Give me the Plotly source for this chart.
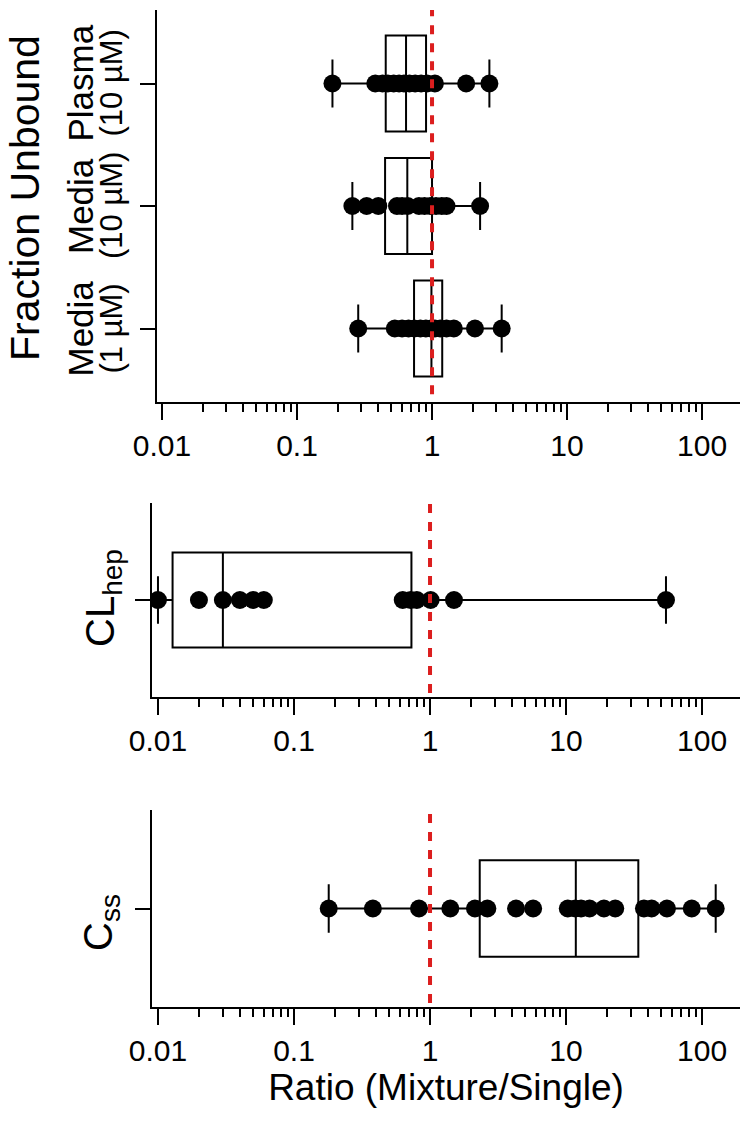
import plotly.graph_objects as go

FONT = "Liberation Sans, Arial, Helvetica, sans-serif"

# ---------------- data ----------------
# Top panel: Fraction unbound ratios (rows from bottom to top)
fu_line1 = ["Media", "Media", "Plasma"]
fu_line2 = ["(1 µM)", "(10 µM)", "(10 µM)"]
fu_media_1uM = [0.284, 0.53, 0.60, 0.67, 0.74, 0.82, 0.90, 0.98, 1.05, 1.15, 1.28, 1.45, 2.08, 3.28]
fu_media_10uM = [0.257, 0.328, 0.40, 0.55, 0.60, 0.66, 0.80, 0.88, 0.97, 1.07, 1.18, 1.28, 2.27]
fu_plasma_10uM = [0.183, 0.38, 0.43, 0.47, 0.52, 0.57, 0.62, 0.68, 0.75, 0.83, 0.92, 1.05, 1.79, 2.66]
fu_q1 = [0.736, 0.449, 0.454]
fu_median = [0.99, 0.656, 0.642]
fu_q3 = [1.19, 1.00, 0.903]
fu_min = [0.284, 0.257, 0.183]
fu_max = [3.28, 2.27, 2.66]

# Middle panel: CLhep ratios
clhep_values = [0.010, 0.020, 0.030, 0.040, 0.050, 0.060, 0.63, 0.72, 0.80, 1.01, 1.50, 54.3]
clhep_q1, clhep_median, clhep_q3 = 0.0128, 0.030, 0.73
clhep_min, clhep_max = 0.010, 54.3

# Bottom panel: Css ratios
css_values = [0.18, 0.38, 0.83, 1.41, 2.14, 2.64, 4.29, 5.73, 10.3, 11.7, 12.9, 14.9,
              19.0, 23.0, 37.4, 42.6, 55.2, 84.0, 126.0]
css_q1, css_median, css_q3 = 2.32, 11.8, 34.0
css_min, css_max = 0.18, 126.0

tick_vals = [0.01, 0.1, 1, 10, 100]
tick_text = ["0.01", "0.1", "1", "10", "100"]
REF_RATIO = 1
x_title = "Ratio (Mixture/Single)"
fu_title = "Fraction Unbound"
clhep_title = "CL<sub>hep</sub>"
css_title = "C<sub>ss</sub>"

# ---------------- figure ----------------
OFF = 8                     # page body margin of the html page
W, H = 750 - OFF, 1128 - OFF
BLACK = "black"


def px(x):
    return (x - OFF) / W


def py(y):
    return 1 - (y - OFF) / H


def ydom(top_px, bottom_px):
    return [py(bottom_px), py(top_px)]


fig = go.Figure()

box_style = dict(orientation="h", line=dict(color=BLACK, width=2),
                 fillcolor="rgba(255,255,255,0)", whiskerwidth=0.5,
                 hoverinfo="skip", showlegend=False)
marker_style = dict(size=18, color=BLACK, line=dict(width=0))

# top panel
fig.add_trace(go.Box(y=[0, 1, 2], q1=fu_q1, median=fu_median, q3=fu_q3,
                     lowerfence=fu_min, upperfence=fu_max, width=0.784,
                     xaxis="x", yaxis="y", **box_style))
for i, vals in enumerate([fu_media_1uM, fu_media_10uM, fu_plasma_10uM]):
    fig.add_trace(go.Scatter(x=vals, y=[i] * len(vals), mode="markers",
                             marker=marker_style, xaxis="x", yaxis="y",
                             showlegend=False))

# middle panel
fig.add_trace(go.Box(y=[0], q1=[clhep_q1], median=[clhep_median], q3=[clhep_q3],
                     lowerfence=[clhep_min], upperfence=[clhep_max], width=0.98,
                     xaxis="x2", yaxis="y2", **box_style))
fig.add_trace(go.Scatter(x=clhep_values, y=[0] * len(clhep_values), mode="markers",
                         marker=marker_style, xaxis="x2", yaxis="y2", showlegend=False))

# bottom panel
fig.add_trace(go.Box(y=[0], q1=[css_q1], median=[css_median], q3=[css_q3],
                     lowerfence=[css_min], upperfence=[css_max], width=0.98,
                     xaxis="x3", yaxis="y3", **box_style))
fig.add_trace(go.Scatter(x=css_values, y=[0] * len(css_values), mode="markers",
                         marker=marker_style, xaxis="x3", yaxis="y3", showlegend=False))


def xax(domain, rng, anchor, title=None):
    d = dict(domain=domain, range=rng, anchor=anchor, type="log", automargin=False,
             tickvals=tick_vals, ticktext=tick_text, ticks="outside",
             ticklen=16, tickwidth=2, tickcolor=BLACK, showline=True,
             linewidth=2, linecolor=BLACK, showgrid=False, zeroline=False,
             tickfont=dict(size=30, color=BLACK, family=FONT),
             minor=dict(ticks="outside", ticklen=8, tickwidth=2, tickcolor=BLACK,
                        dtick="D1", showgrid=False))
    if title:
        d["title"] = dict(text=title, font=dict(size=37, color=BLACK, family=FONT),
                          standoff=4)
    return d


def yax(domain, rng, anchor, tickvals):
    return dict(domain=domain, range=rng, anchor=anchor, tickvals=tickvals,
                showticklabels=False, automargin=False, ticks="outside", ticklen=15,
                tickwidth=2, tickcolor=BLACK, showline=True, linewidth=2,
                linecolor=BLACK, showgrid=False, zeroline=False)


fig.update_layout(
    width=W, height=H,
    margin=dict(l=0, r=0, t=0, b=0, autoexpand=False),
    paper_bgcolor="white", plot_bgcolor="white",
    font=dict(family=FONT, color=BLACK),
    xaxis=xax([px(157), px(740)], [-2.037, 2.281], "y"),
    yaxis=yax(ydom(10, 402), [-0.6, 2.6], "x", [0, 1, 2]),
    xaxis2=xax([px(152), px(740)], [-2.044, 2.279], "y2"),
    yaxis2=yax(ydom(503, 697), [-1, 1], "x2", [0]),
    xaxis3=xax([px(152), px(740)], [-2.044, 2.279], "y3", x_title),
    yaxis3=yax(ydom(810, 1007), [-1, 1], "x3", [0]),
)

# red dashed reference lines at ratio = 1
for xr, yr in [("x", "y"), ("x2", "y2"), ("x3", "y3")]:
    fig.add_shape(type="line", xref=xr, yref=yr + " domain", x0=REF_RATIO, x1=REF_RATIO,
                  y0=0.02, y1=1, line=dict(color="#dc1e1e", width=4, dash="9px,9px"),
                  layer="above")

# category labels of the top panel (two lines, rotated)
for i, (l1, l2) in enumerate(zip(fu_line1, fu_line2)):
    fig.add_annotation(text=l1, xref="paper", yref="y", x=px(80), y=i,
                       textangle=-90, showarrow=False, xanchor="center", yanchor="middle",
                       font=dict(size=35, color=BLACK, family=FONT))
    fig.add_annotation(text=l2, xref="paper", yref="y", x=px(111), y=i,
                       textangle=-90, showarrow=False, xanchor="center", yanchor="middle",
                       font=dict(size=31, color=BLACK, family=FONT))

# side titles
fig.add_annotation(text=fu_title, xref="paper", yref="paper", x=px(25), y=py(198),
                   textangle=-90, showarrow=False, xanchor="center", yanchor="middle",
                   font=dict(size=41, color=BLACK, family=FONT))
fig.add_annotation(text=clhep_title, xref="paper", yref="paper", x=px(103), y=py(598),
                   textangle=-90, showarrow=False, xanchor="center", yanchor="middle",
                   font=dict(size=40, color=BLACK, family=FONT))
fig.add_annotation(text=css_title, xref="paper", yref="paper", x=px(101), y=py(923),
                   textangle=-90, showarrow=False, xanchor="center", yanchor="middle",
                   font=dict(size=40, color=BLACK, family=FONT))

fig.write_html("out.html")
